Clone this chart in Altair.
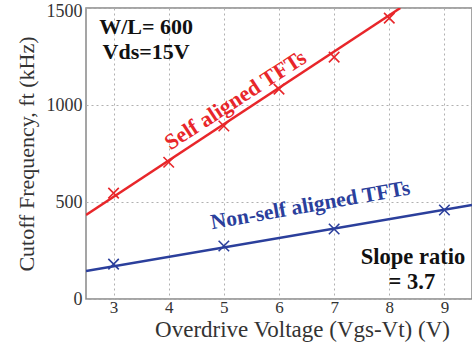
import altair as alt
import pandas as pd

# Measured points
red_x = [3, 4, 5, 6, 7, 8]
red_y = [546, 705, 892, 1082, 1247, 1448]
blue_x = [3, 5, 7, 9]
blue_y = [180, 273, 361, 459]

# Fitted lines (endpoints)
red_fit_x = [2.5, 8.2]
red_fit_y = [433, 1500]
blue_fit_x = [2.5, 9.5]
blue_fit_y = [144, 485]

RED = "#e8262a"
BLUE = "#2b3f9c"
SERIF = "Liberation Serif"

pts = pd.DataFrame({
    "x": red_x + blue_x,
    "y": red_y + blue_y,
    "s": ["Self"] * len(red_x) + ["Non"] * len(blue_x),
})
fit = pd.DataFrame({
    "x": red_fit_x + blue_fit_x,
    "y": red_fit_y + blue_fit_y,
    "s": ["Self"] * 2 + ["Non"] * 2,
})

xs = alt.Scale(domain=[2.5, 9.5], nice=False, zero=False)
ys = alt.Scale(domain=[0, 1500], nice=False)
col = alt.Color("s:N", scale=alt.Scale(domain=["Self", "Non"], range=[RED, BLUE]), legend=None)

xaxis = alt.Axis(
    title="Overdrive Voltage (Vgs-Vt) (V)", values=[3, 4, 5, 6, 7, 8, 9], format="d",
    grid=True, gridDash=[2, 3], gridColor="#b0b0b0", ticks=False, domain=False,
    labelFont=SERIF, labelFontSize=17, labelColor="#333", labelPadding=0,
    titleFont=SERIF, titleFontSize=23, titleFontWeight="normal", titleColor="#333",
    titleX=216, titleY=37, titleBaseline="alphabetic", labelFlush=False,
)
yaxis = alt.Axis(
    title="Cutoff Frequency, ft (kHz)", values=[0, 500, 1000, 1500], format="d",
    grid=True, gridDash=[2, 3], gridColor="#b0b0b0", ticks=False, domain=False,
    labelFont=SERIF, labelFontSize=18, labelColor="#333", labelPadding=4,
    labelBaseline="middle",
    labelOffset={"condition": {"test": "datum.value == 1500", "value": 3}, "value": 0},
    titleFont=SERIF, titleFontSize=22, titleFontWeight="normal", titleColor="#333",
    titlePadding=8, labelFlush=False,
)

lines = alt.Chart(fit).mark_line(strokeWidth=2.5, clip=True).encode(
    x=alt.X("x:Q", scale=xs, axis=xaxis),
    y=alt.Y("y:Q", scale=ys, axis=yaxis),
    color=col, detail="s:N",
)
marks = alt.Chart(pts).mark_point(
    shape="M-1,-1L1,1M-1,1L1,-1", size=110, strokeWidth=1.6, filled=False, opacity=1
).encode(x=alt.X("x:Q", scale=xs), y=alt.Y("y:Q", scale=ys), color=col)

def label(text, x, y, color, size, angle=0, font=SERIF):
    df = pd.DataFrame({"t": [text], "x": [x], "y": [y]})
    return alt.Chart(df).mark_text(
        font=font, fontSize=size, fontWeight="bold", color=color, angle=angle,
        align="center", baseline="middle",
    ).encode(x=alt.X("x:Q", scale=xs), y=alt.Y("y:Q", scale=ys), text="t:N")

texts = [
    label("W/L= 600", 3.59, 1402, "#111", 22),
    label("Vds=15V", 3.59, 1273, "#111", 22),
    label("Self aligned TFTs", 5.21, 1026, RED, 22, 327),
    label("Non-self aligned TFTs", 6.57, 480, BLUE, 21.5, 350),
    label("Slope ratio", 8.43, 216, "#111", 22.5),
    label("= 3.7", 8.41, 86, "#111", 22.5),
]

chart = alt.layer(lines, marks, *texts).properties(
    width=386, height=291,
    autosize=alt.AutoSizeParams(type="none"),
    padding={"left": 86, "top": 8, "right": 0, "bottom": 44},
    background="white",
).configure_view(stroke="#888", strokeWidth=1.5)

chart.save("out.html", embed_options={"renderer": "svg", "actions": False})
